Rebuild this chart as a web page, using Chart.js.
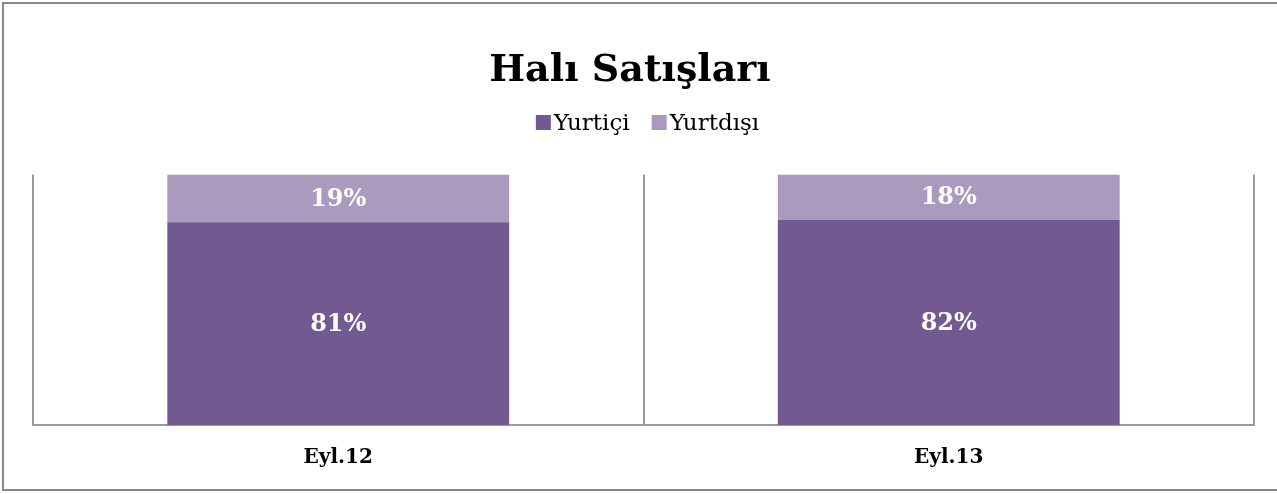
<!DOCTYPE html>
<html>
<head>
<meta charset="utf-8">
<script src="https://cdn.jsdelivr.net/npm/chart.js@4"></script>
<style>
  body { margin: 0; background: #fff; overflow: hidden; }
  #wrap { position: relative; width: 1277px; height: 494px; overflow: hidden; }
  #frame {
    position: absolute; left: 2px; top: 2px; width: 1300px; height: 489px;
    border: 2px solid #888; border-right: none; box-sizing: border-box;
  }
  canvas { position: absolute; left: 0; top: 0; }
</style>
</head>
<body>
<div id="wrap">
  <div id="frame"></div>
  <canvas id="chart" width="1277" height="494"></canvas>
</div>
<script>
// chart data
const categories = ['Eyl.12', 'Eyl.13'];
const yurtici = [81, 82];
const yurtdisi = [19, 18];
const seriesNames = ['Yurtiçi', 'Yurtdışı'];
const chartTitle = 'Halı Satışları';

const serif = "'DejaVu Serif', 'Liberation Serif', serif";

// percent labels in the middle of each bar piece
const barLabels = {
  id: 'barLabels',
  afterDatasetsDraw(chart) {
    const ctx = chart.ctx;
    ctx.save();
    ctx.fillStyle = '#ffffff';
    ctx.font = 'bold 24px ' + serif;
    ctx.textAlign = 'center';
    ctx.textBaseline = 'middle';
    chart.data.datasets.forEach((ds, i) => {
      chart.getDatasetMeta(i).data.forEach((bar, j) => {
        const mid = (bar.y + bar.base) / 2;
        ctx.fillText(ds.data[j] + '%', bar.x, mid + 1);
      });
    });
    ctx.restore();
  }
};

// small legend under the title, squares sit close to the text
const topLegend = {
  id: 'topLegend',
  afterDraw(chart) {
    const ctx = chart.ctx;
    const box = 15, gapText = 3, gapItem = 22;
    const baseline = 130;
    ctx.save();
    ctx.font = '23px ' + serif;
    const items = chart.data.datasets.map(ds => ({
      text: ds.label,
      color: ds.backgroundColor,
      w: ctx.measureText(ds.label).width
    }));
    let total = 0;
    items.forEach((it, i) => {
      total += box + gapText + it.w + (i < items.length - 1 ? gapItem : 0);
    });
    let x = 647.5 - total / 2;
    ctx.textBaseline = 'alphabetic';
    ctx.textAlign = 'left';
    items.forEach(it => {
      ctx.fillStyle = it.color;
      ctx.fillRect(x, baseline - 15, box, box);
      x += box + gapText;
      ctx.fillStyle = '#000';
      ctx.fillText(it.text, x, baseline);
      x += it.w + gapItem;
    });
    ctx.restore();
  }
};

const ctx = document.getElementById('chart');
new Chart(ctx, {
  type: 'bar',
  data: {
    labels: categories,
    datasets: [
      { label: seriesNames[0], data: yurtici, backgroundColor: '#72598f' },
      { label: seriesNames[1], data: yurtdisi, backgroundColor: '#a99abe' }
    ]
  },
  options: {
    responsive: false,
    animation: false,
    devicePixelRatio: 1,
    layout: { padding: { left: 6, right: 23, top: 0, bottom: 3 } },
    datasets: { bar: { barPercentage: 0.56, categoryPercentage: 1 } },
    plugins: {
      title: {
        display: true,
        text: chartTitle,
        color: '#000',
        font: { family: serif, size: 38, weight: 'bold' },
        padding: { top: 48, bottom: 81 }
      },
      legend: { display: false },
      tooltip: { enabled: false }
    },
    scales: {
      x: {
        stacked: true,
        grid: { offset: true, color: '#999', lineWidth: 2, drawTicks: false },
        border: { display: true, color: '#999', width: 2 },
        ticks: {
          color: '#000',
          font: { family: serif, size: 20, weight: 'bold' },
          padding: 21
        }
      },
      y: {
        stacked: true,
        min: 0,
        max: 100,
        ticks: { display: false },
        grid: { display: false },
        border: { display: false },
        afterFit(scale) { scale.width = 27; }
      }
    }
  },
  plugins: [barLabels, topLegend]
});
</script>
</body>
</html>
